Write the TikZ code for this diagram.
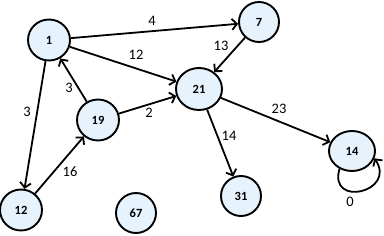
\documentclass[tikz,border=0pt]{standalone}
\usepackage{fontspec}
\setmainfont{Carlito}
\usetikzlibrary{arrows.meta,shapes.geometric}
\definecolor{nodefill}{RGB}{230,242,252}
\tikzset{
  vert/.style={ellipse,draw=black,line width=1.9pt,fill=nodefill,inner sep=0pt,
    minimum width=42pt,minimum height=41pt,font=\fontsize{12.5}{14}\selectfont\bfseries},
  lbl/.style={inner sep=0pt,font=\fontsize{14.5}{16}\selectfont},
  arr/.style={line width=1.8pt,-{Straight Barb[length=5pt,width=11pt,line width=1.8pt]}}
}
\begin{document}
\begin{tikzpicture}[x=1pt,y=-1pt]
\useasboundingbox (0,0) rectangle (384,236);
\node[vert] (n1) at (49,40) {1};
\node[vert,minimum width=40pt,minimum height=40pt] (n7) at (259,22) {7};
\node[vert,minimum width=46pt,minimum height=42pt] (n21) at (199,89) {21};
\node[vert] (n19) at (98,120) {19};
\node[vert] (n12) at (21,210) {12};
\node[vert,minimum width=40pt,minimum height=40pt] (n67) at (136,213) {67};
\node[vert,minimum width=40pt,minimum height=40pt] (n31) at (241,196) {31};
\node[vert,minimum width=46pt,minimum height=40pt] (n14) at (352,151) {14};
\draw[arr] (n1) -- (n7);
\draw[arr] (n1) -- (n21);
\draw[arr] (n7) -- (n21);
\draw[arr] (n19) -- (n1);
\draw[arr] (n19) -- (n21);
\draw[arr] (n1) -- (n12);
\draw[arr] (n12) -- (n19);
\draw[arr] (n21) -- (n14);
\draw[arr] (n21) -- (n31);
\draw[arr] (n14.235) .. controls (328,208) and (397,192) .. (n14.-18);
\node[lbl] (l4) at (152,21) {4};
\node[lbl] (l12) at (136,55) {12};
\node[lbl] (l13) at (221,46) {13};
\node[lbl] (l3a) at (69,88) {3};
\node[lbl] (l2) at (149,113) {2};
\node[lbl] (l3b) at (27,112) {3};
\node[lbl] (l16) at (70,172) {16};
\node[lbl] (l23) at (279,109) {23};
\node[lbl] (l14) at (229,136) {14};
\node[lbl] (l0) at (350,202) {0};
\end{tikzpicture}
\end{document}
